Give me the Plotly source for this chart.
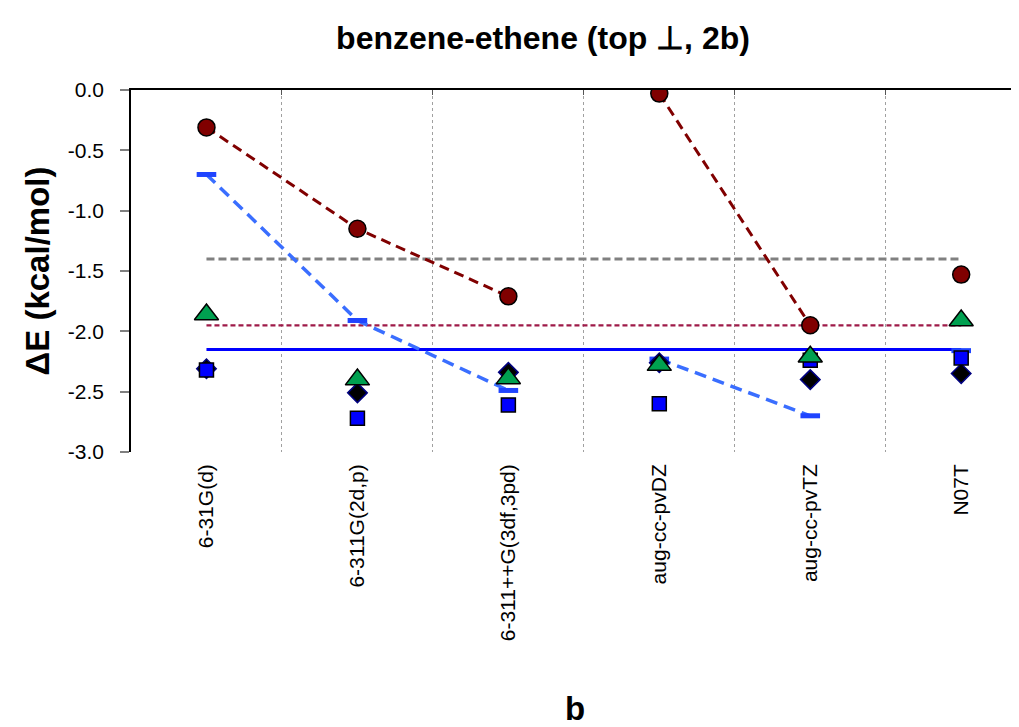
import plotly.graph_objects as go

categories = ["6-31G(d)", "6-311G(2d,p)", "6-311++G(3df,3pd)", "aug-cc-pvDZ", "aug-cc-pvTZ", "N07T"]

circle_vals = [-0.31, -1.15, -1.71, -0.03, -1.95, -1.53]
dash_vals = [-0.70, -1.91, -2.49, -2.23, -2.70, -2.16]
triangle_vals = [-1.86, -2.40, -2.39, -2.28, -2.21, -1.91]
diamond_vals = [-2.31, -2.51, -2.34, -2.26, -2.40, -2.35]
square_vals = [-2.32, -2.72, -2.61, -2.60, -2.24, -2.22]

ref_gray = -1.40
ref_crimson = -1.95
ref_blue = -2.15

y_tick_vals = [0.0, -0.5, -1.0, -1.5, -2.0, -2.5, -3.0]
y_tick_text = ["0.0", "-0.5", "-1.0", "-1.5", "-2.0", "-2.5", "-3.0"]

pople = slice(0, 3)
dunning = slice(3, 5)

FONT = "Liberation Sans, Arial, Helvetica, sans-serif"

fig = go.Figure()

# reference horizontal lines
fig.add_trace(go.Scatter(x=categories, y=[ref_gray] * len(categories), mode="lines",
                         line=dict(color="#808080", width=3, dash="8px,4px"), hoverinfo="skip"))
fig.add_trace(go.Scatter(x=categories, y=[ref_crimson] * len(categories), mode="lines",
                         line=dict(color="#9e1a48", width=2.2, dash="5px,3px"), hoverinfo="skip"))
fig.add_trace(go.Scatter(x=categories, y=[ref_blue] * len(categories), mode="lines",
                         line=dict(color="#0000ff", width=3), hoverinfo="skip"))

# light blue dashed series
for sl in (pople, dunning):
    fig.add_trace(go.Scatter(x=categories[sl], y=dash_vals[sl], mode="lines",
                             line=dict(color="#3a6eff", width=3.5, dash="12px,7px"), hoverinfo="skip"))
fig.add_trace(go.Scatter(x=categories, y=dash_vals, mode="markers",
                         marker=dict(symbol="line-ew", size=14,
                                     line=dict(color="#1f44ff", width=5))))

# diamonds
fig.add_trace(go.Scatter(x=categories, y=diamond_vals, mode="markers",
                         marker=dict(symbol="diamond", size=15, color="#000000",
                                     line=dict(color="#000080", width=1.5))))
# squares
fig.add_trace(go.Scatter(x=categories, y=square_vals, mode="markers",
                         marker=dict(symbol="square", size=14, color="#0000ff",
                                     line=dict(color="#000000", width=1.5))))
# triangles
fig.add_trace(go.Scatter(x=categories, y=triangle_vals, mode="markers",
                         marker=dict(symbol="triangle-up", size=21, color="#00a050",
                                     line=dict(color="#000000", width=1.5))))

# dark red dashed series with circles
for sl in (pople, dunning):
    fig.add_trace(go.Scatter(x=categories[sl], y=circle_vals[sl], mode="lines",
                             line=dict(color="#800000", width=3, dash="10px,6px"), hoverinfo="skip"))
fig.add_trace(go.Scatter(x=categories, y=circle_vals, mode="markers",
                         marker=dict(symbol="circle", size=17, color="#800000",
                                     line=dict(color="#000000", width=1.5))))

# invisible trace for the top axis
fig.add_trace(go.Scatter(x=categories, y=[None] * len(categories), xaxis="x2", mode="markers",
                         marker=dict(opacity=0), hoverinfo="skip"))

xrange = [-0.5, 5.383]

W, H = 1011, 719

fig.update_layout(
    width=W, height=H,
    margin=dict(l=123, r=0, t=82, b=275, autoexpand=False),
    paper_bgcolor="white", plot_bgcolor="white",
    showlegend=False,
    font=dict(family=FONT, color="black"),
    title=dict(text="<b>benzene-ethene (top \u22a5, 2b)</b>", font=dict(size=32, family=FONT, color="black"),
               x=535 / W, xref="container", xanchor="center", y=1 - 30 / H, yref="container", yanchor="middle"),
    xaxis=dict(type="category", categoryorder="array", categoryarray=categories,
               range=xrange, tickson="boundaries", showgrid=True, gridcolor="#a0a0a0",
               griddash="dot", gridwidth=1, showline=False, ticks="", zeroline=False,
               tickangle=-90, tickfont=dict(size=21, family=FONT, color="black"),
               ticklabelstandoff=7, automargin=False,
               title=dict(text="<b>b</b>", font=dict(size=33, family=FONT, color="black"), standoff=67)),
    xaxis2=dict(type="category", categoryorder="array", categoryarray=categories,
                overlaying="x", anchor="y", side="top", range=xrange, tickson="boundaries",
                showline=True, linecolor="black", linewidth=1.5, ticks="inside", ticklen=5,
                tickcolor="#555555", showticklabels=False, showgrid=False, zeroline=False,
                automargin=False),
    yaxis=dict(range=[-3.0, 0.0], tickvals=y_tick_vals, ticktext=y_tick_text,
               showgrid=False, zeroline=False, showline=True, linecolor="black", linewidth=1.5,
               ticks="outside", ticklen=9, tickcolor="#808080", tickwidth=1.5,
               tickfont=dict(size=21, family=FONT, color="black"), ticklabelstandoff=12,
               automargin=False,
               title=dict(text="<b>\u0394E (kcal/mol)</b>", font=dict(size=33, family=FONT, color="black"),
                          standoff=8)),
)

fig.write_html("out.html")
